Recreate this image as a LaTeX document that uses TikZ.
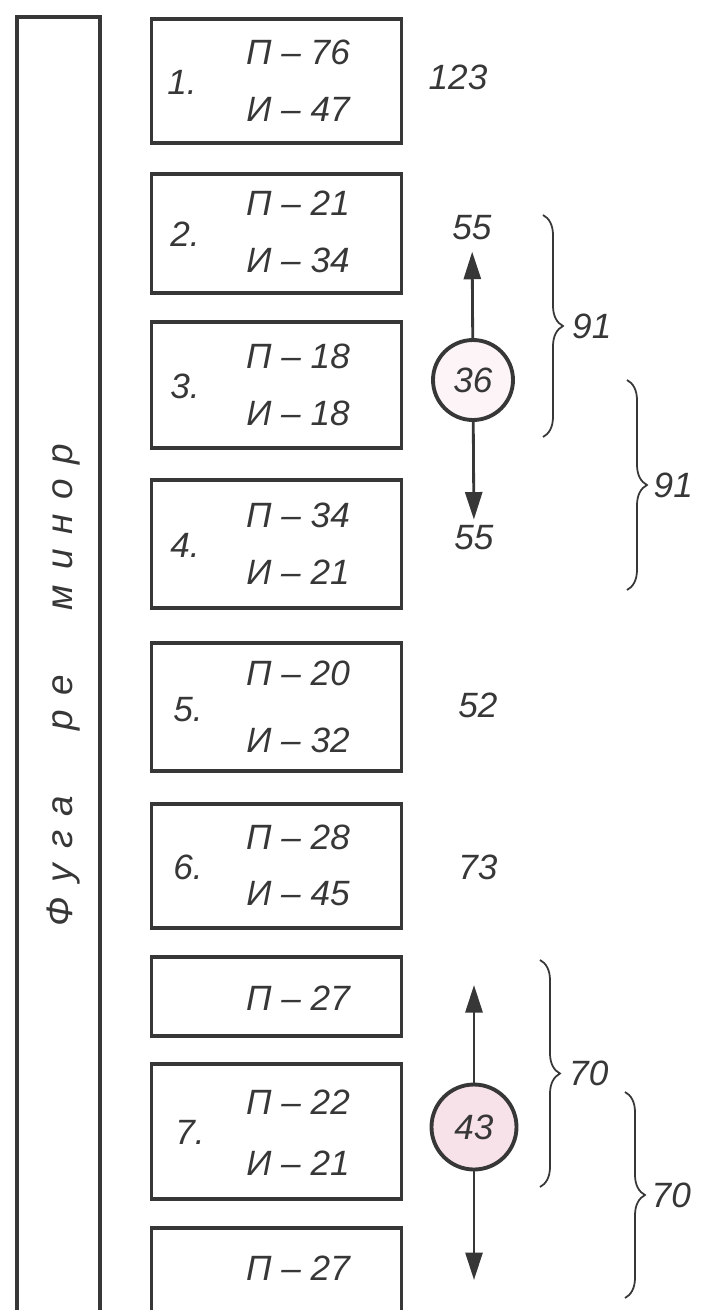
\documentclass[tikz,border=0pt]{standalone}
\usepackage{fontspec}
\setmainfont{Liberation Sans}
\usetikzlibrary{arrows.meta, positioning, decorations.pathreplacing}
\definecolor{inkgray}{RGB}{55, 55, 55}
\definecolor{circpink}{RGB}{248, 226, 234}
\definecolor{circpale}{RGB}{252, 244, 246}

\begin{document}
\begin{tikzpicture}[
        font=\itshape\fontsize{20}{24}\selectfont,
        part/.style={draw=inkgray, line width=2.2pt, minimum width=5cm, inner sep=0pt},
        voice/.style={text=inkgray},
        num/.style={text=inkgray},
        centre/.style={circle, draw=inkgray, line width=2.2pt, minimum size=1.6cm, inner sep=0pt, text=inkgray},
        arr/.style={-{Triangle[length=5.5mm, width=3.4mm]}, line width=1.6pt, draw=inkgray},
        curly/.style={decorate, decoration={brace, amplitude=0.4cm}, line width=1pt, draw=inkgray}
    ]
        \useasboundingbox (0,0) rectangle (14.06,-26.2);

        % Title column
        \draw[line width=1.8pt, inkgray] (0.34,-26.5) |- (2.0,-0.34) -- (2.0,-26.5);
        \node[rotate=90, text=inkgray, font=\itshape\fontsize{21}{24}\selectfont] (title) at (1.28,-13.7)
            {\addfontfeature{LetterSpace=40}Фуга\hspace{1.3cm}ре\hspace{1.3cm}минор};

        % Sections
        \node[part, minimum height=2.48cm] (s1) at (5.53,-1.62) {};
        \node[num] at (3.64,-1.64) {1.};
        \node[voice] (s1p) at (5.96,-1.04) {П – 76};
        \node[voice] (s1i) at (5.96,-2.18) {И – 47};

        \node[part, minimum height=2.38cm] (s2) at (5.53,-4.67) {};
        \node[num] at (3.7,-4.68) {2.};
        \node[voice] (s2p) at (5.96,-4.07) {П – 21};
        \node[voice] (s2i) at (5.96,-5.21) {И – 34};

        \node[part, minimum height=2.52cm] (s3) at (5.53,-7.70) {};
        \node[num] at (3.7,-7.72) {3.};
        \node[voice] (s3p) at (5.96,-7.12) {П – 18};
        \node[voice] (s3i) at (5.96,-8.26) {И – 18};

        \node[part, minimum height=2.56cm] (s4) at (5.53,-10.88) {};
        \node[num] at (3.7,-10.9) {4.};
        \node[voice] (s4p) at (5.96,-10.30) {П – 34};
        \node[voice] (s4i) at (5.96,-11.44) {И – 21};

        \node[part, minimum height=2.56cm] (s5) at (5.53,-14.14) {};
        \node[num] at (3.76,-14.2) {5.};
        \node[voice] (s5p) at (5.96,-13.46) {П – 20};
        \node[voice] (s5i) at (5.96,-14.8) {И – 32};

        \node[part, minimum height=2.48cm] (s6) at (5.53,-17.32) {};
        \node[num] at (3.76,-17.34) {6.};
        \node[voice] (s6p) at (5.96,-16.74) {П – 28};
        \node[voice] (s6i) at (5.96,-17.88) {И – 45};

        \node[part, minimum height=1.58cm] (s7a) at (5.53,-19.93) {};
        \node[voice] (s7ap) at (5.96,-19.96) {П – 27};

        \node[part, minimum height=2.7cm] (s7) at (5.53,-22.63) {};
        \node[num] at (3.8,-22.64) {7.};
        \node[voice] (s7p) at (5.96,-22.04) {П – 22};
        \node[voice] (s7i) at (5.96,-23.26) {И – 21};

        \node[part, minimum height=2.24cm] (s7b) at (5.53,-25.68) {};
        \node[voice] (s7bp) at (5.96,-25.36) {П – 27};

        % Totals
        \node[num] (n123) at (9.16,-1.54) {123};
        \node[num] (n52) at (9.56,-14.1) {52};
        \node[num] (n73) at (9.56,-17.34) {73};

        % Centre 36
        \node[centre, fill=circpale] (c36) at (9.46,-7.6) {36};
        \node[num] (u55) at (9.44,-4.56) {55};
        \node[num] (d55) at (9.48,-10.76) {55};
        \draw[arr, shorten >=3pt] (c36) -- (u55);
        \draw[arr] (c36) -- (d55);

        % Centre 43
        \node[centre, minimum size=1.7cm, fill=circpink] (c43) at (9.48,-22.54) {43};
        \coordinate (t43u) at (9.48,-19.7);
        \coordinate (t43d) at (9.48,-25.6);
        \draw[arr] (c43) -- (t43u);
        \draw[arr] (c43) -- (t43d);

        % Braces
        \coordinate (b1t) at (10.86,-4.3);  \coordinate (b1b) at (10.86,-8.74);
        \coordinate (b2t) at (12.54,-7.6);  \coordinate (b2b) at (12.54,-11.8);
        \coordinate (b3t) at (10.8,-19.2);  \coordinate (b3b) at (10.8,-23.74);
        \coordinate (b4t) at (12.5,-21.84); \coordinate (b4b) at (12.5,-25.96);
        \draw[curly] (b1t) -- (b1b) node[num, midway, right=0.45cm] {91};
        \draw[curly] (b2t) -- (b2b) node[num, midway, right=0.4cm] {91};
        \draw[curly] (b3t) -- (b3b) node[num, midway, right=0.45cm] {70};
        \draw[curly] (b4t) -- (b4b) node[num, midway, right=0.4cm] {70};
    \end{tikzpicture}
\end{document}
